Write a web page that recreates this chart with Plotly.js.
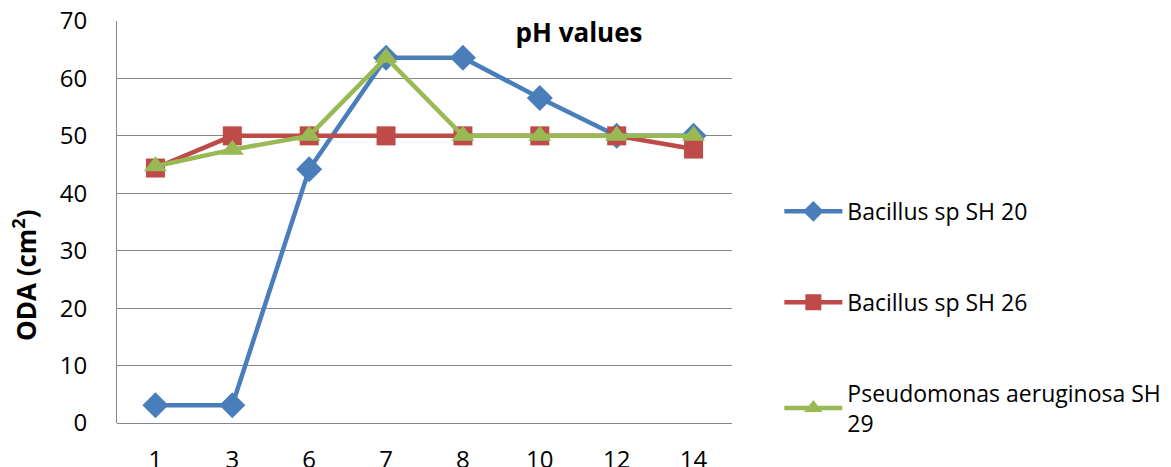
<!DOCTYPE html>
<html>
<head>
<meta charset="utf-8">
<script src="https://cdn.plot.ly/plotly-3.0.1.min.js"></script>
<style>html,body{margin:0;padding:0;background:#fff;}#chart{width:1171px;height:467px;}</style>
</head>
<body>
<div id="chart"></div>
<script>
const categories = ['1', '3', '6', '7', '8', '10', '12', '14'];
const bacillus20 = [3.1, 3.1, 44.2, 63.6, 63.6, 56.6, 50, 50];
const bacillus26 = [44.4, 50, 50, 50, 50, 50, 50, 47.7];
const pseudomonas29 = [44.7, 47.6, 50, 63.6, 50, 50, 50, 50];
const seriesNames = ['Bacillus sp SH 20', 'Bacillus sp SH 26', 'Pseudomonas aeruginosa SH<br>29'];
const yTicks = [0, 10, 20, 30, 40, 50, 60, 70];
const yTitle = '<b>ODA (cm<sup>2</sup>)</b>';

const FONT = '"Open Sans", Lato, sans-serif';
const colors = ['#4A7EBB', '#BE4B48', '#98B954'];
const symbols = ['diamond', 'square', 'triangle-up'];
const sizes = [20, 19, 20];
const data = [bacillus20, bacillus26, pseudomonas29].map((ys, i) => ({
  x: categories,
  y: ys,
  name: seriesNames[i],
  type: 'scatter',
  mode: 'lines+markers',
  legendgroup: 'g' + i,
  line: {color: colors[i], width: 4.5},
  marker: {symbol: symbols[i], size: sizes[i], color: colors[i]}
}));

const layout = {
  width: 1171, height: 467,
  margin: {l: 117, r: 439, t: 21, b: 44, autoexpand: false},
  paper_bgcolor: '#fff', plot_bgcolor: '#fff',
  font: {family: FONT, color: '#000', size: 23},
  title: {
    text: '<b>pH values</b>',
    font: {family: FONT, size: 26, color: '#000'},
    xref: 'container', yref: 'container',
    x: 579 / 1171, y: 1 - 33 / 467, xanchor: 'center', yanchor: 'middle'
  },
  xaxis: {
    type: 'category',
    categoryorder: 'array', categoryarray: categories,
    showgrid: false, zeroline: false,
    showline: false,
    ticks: '',
    tickfont: {family: FONT, size: 24, color: '#000'},
    ticklabelstandoff: 20,
    range: [-0.5, categories.length - 0.5]
  },
  yaxis: {
    range: [0, 70],
    tickvals: yTicks,
    ticktext: yTicks.map(String),
    showgrid: true, gridcolor: '#868686', gridwidth: 1,
    zeroline: true, zerolinecolor: '#868686', zerolinewidth: 1,
    showline: true, linecolor: '#868686', linewidth: 1,
    ticks: '',
    ticklabelstandoff: 24,
    tickfont: {family: FONT, size: 24, color: '#000'}
  },
  annotations: [{
    text: yTitle,
    xref: 'paper', yref: 'paper',
    x: (25 - 117) / 615, y: (423 - 275) / 402,
    xanchor: 'center', yanchor: 'middle',
    textangle: -90, showarrow: false,
    font: {family: FONT, size: 26, color: '#000'}
  }],
  showlegend: true,
  legend: {
    x: 1.077, xanchor: 'left',
    y: 0.58, yanchor: 'top',
    tracegroupgap: 58,
    itemwidth: 58,
    font: {family: FONT, size: 23, color: '#000'},
    bgcolor: 'rgba(0,0,0,0)'
  }
};

Plotly.newPlot('chart', data, layout, {displayModeBar: false, staticPlot: true});
</script>
</body>
</html>
